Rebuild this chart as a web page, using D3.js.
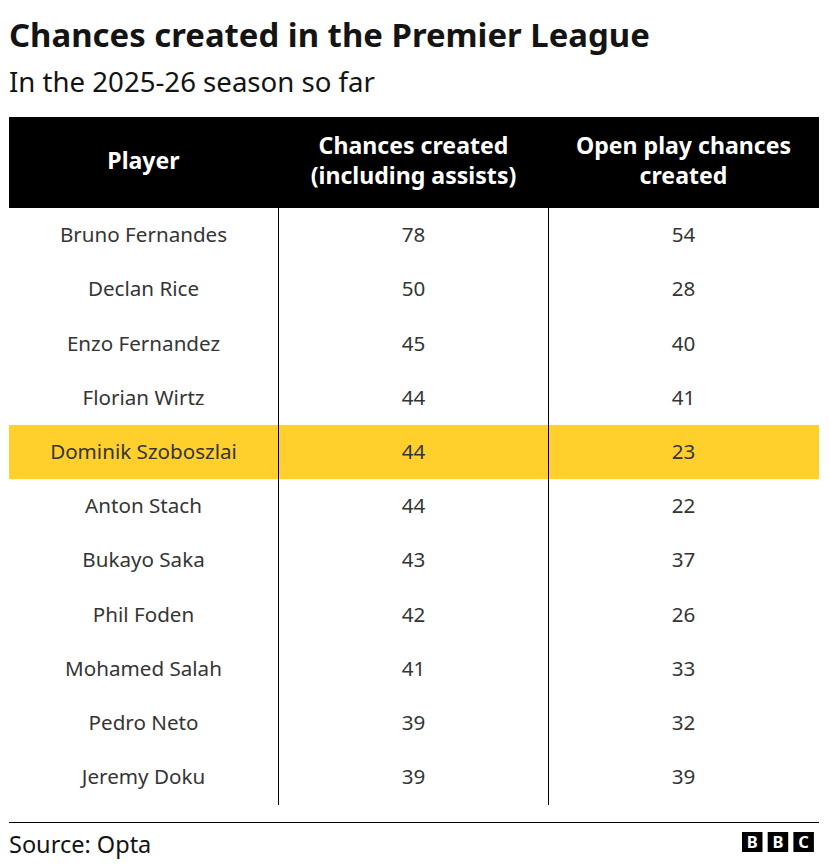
<!DOCTYPE html>
<html>
<head>
<meta charset="utf-8">
<script src="https://cdn.jsdelivr.net/npm/d3@7/dist/d3.min.js"></script>
<style>
  html, body { margin: 0; padding: 0; background: #fff; }
  svg { display: block; font-family: "Noto Sans", sans-serif; }
</style>
</head>
<body>
<svg id="chart"></svg>
<script>
const players = ["Bruno Fernandes", "Declan Rice", "Enzo Fernandez", "Florian Wirtz", "Dominik Szoboszlai", "Anton Stach", "Bukayo Saka", "Phil Foden", "Mohamed Salah", "Pedro Neto", "Jeremy Doku"];
const chancesCreated = [78, 50, 45, 44, 44, 44, 43, 42, 41, 39, 39];
const openPlayChances = [54, 28, 40, 41, 23, 22, 37, 26, 33, 32, 39];
const columns = ["player", "chances", "openPlay"];
const columnHeaders = [["Player"], ["Chances created", "(including assists)"], ["Open play chances", "created"]];
const highlighted = "Dominik Szoboszlai";
const logoLetters = ["B", "B", "C"];

const width = 830;
const height = 868;
const svg = d3.select("#chart").attr("width", width).attr("height", height);

const x = d3.scaleBand().domain(columns).range([9, 819]);
const y = d3.scaleBand().domain(players).range([208, 804.5]);
const headerTop = 117;
const headerBottom = 208;

// Title
svg.append("text").attr("x", 9).attr("y", 47)
  .attr("font-size", 32.9).attr("font-weight", 700).attr("fill", "#141414")
  .text("Chances created in the Premier League");
svg.append("text").attr("x", 9).attr("y", 92)
  .attr("font-size", 27.6).attr("fill", "#141414")
  .text("In the 2025-26 season so far");

// Header
svg.append("rect").attr("x", 9).attr("y", headerTop)
  .attr("width", 810).attr("height", headerBottom - headerTop).attr("fill", "#000");

const headers = svg.selectAll(".header").data(columnHeaders).join("text")
  .attr("class", "header")
  .attr("text-anchor", "middle")
  .attr("font-size", 23.1).attr("font-weight", 700).attr("fill", "#fff");
headers.each(function (lines, i) {
  const cx = x(columns[i]) + x.bandwidth() / 2 - 0.5;
  const startY = lines.length === 1 ? 169 : 154;
  d3.select(this).selectAll("tspan").data(lines).join("tspan")
    .attr("x", cx)
    .attr("y", (d, j) => startY + j * 30)
    .text((d) => d);
});

// Highlight row
svg.append("rect").attr("x", 9).attr("y", y(highlighted))
  .attr("width", 810).attr("height", y.bandwidth()).attr("fill", "#ffd02b");

// Rows
const rows = svg.selectAll(".row").data(players).join("g")
  .attr("class", "row")
  .attr("transform", (d) => `translate(0,${y(d) + y.bandwidth() / 2})`);

const cellText = (key, value) => {
  rows.append("text")
    .attr("x", x(key) + x.bandwidth() / 2 - 0.5)
    .attr("y", 7)
    .attr("text-anchor", "middle")
    .attr("font-size", 20.6)
    .attr("fill", "#353535")
    .text((d, i) => value[i]);
};
cellText("player", players);
cellText("chances", chancesCreated);
cellText("openPlay", openPlayChances);

// Column rules
svg.selectAll(".rule").data(columns.slice(1)).join("line")
  .attr("class", "rule")
  .attr("x1", (d) => Math.round(x(d)) - 0.5)
  .attr("x2", (d) => Math.round(x(d)) - 0.5)
  .attr("y1", headerBottom).attr("y2", 805)
  .attr("stroke", "#000").attr("stroke-width", 1);

// Footer
svg.append("line").attr("x1", 9).attr("x2", 819).attr("y1", 822.5).attr("y2", 822.5)
  .attr("stroke", "#000").attr("stroke-width", 1);
svg.append("text").attr("x", 9).attr("y", 853)
  .attr("font-size", 23.5).attr("fill", "#141414").text("Source: Opta");

// BBC logo
const logo = svg.selectAll(".logo").data(logoLetters).join("g")
  .attr("class", "logo")
  .attr("transform", (d, i) => `translate(${742 + i * 25.7},832)`);
logo.append("rect").attr("width", 20.5).attr("height", 20).attr("fill", "#000");
logo.append("text").attr("x", 10.25).attr("y", 16)
  .attr("text-anchor", "middle").attr("font-size", 16.5).attr("font-weight", 700)
  .attr("fill", "#fff").text((d) => d);
</script>
</body>
</html>
